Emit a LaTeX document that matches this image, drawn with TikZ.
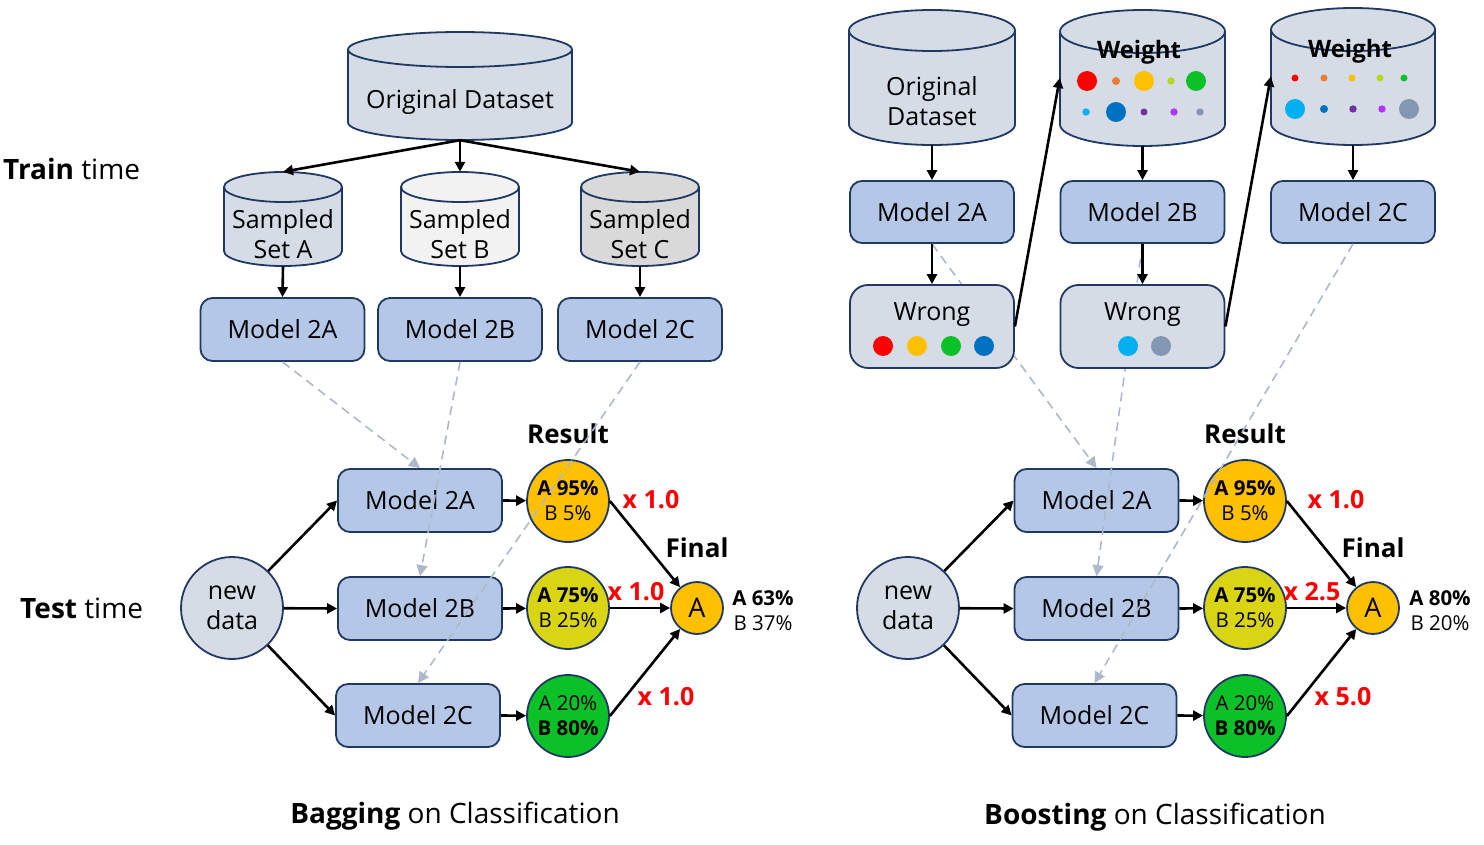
\documentclass[tikz,border=0pt]{standalone}
\usepackage{fontspec}
\setmainfont{Open Sans}
\usetikzlibrary{arrows.meta}

\definecolor{navy}{RGB}{31,56,100}
\definecolor{modelblue}{RGB}{180,199,231}
\definecolor{paleblue}{RGB}{214,220,229}
\definecolor{palewhite}{RGB}{242,242,242}
\definecolor{palegray}{RGB}{217,217,217}
\definecolor{hintgray}{RGB}{173,185,202}
\definecolor{gold}{RGB}{255,192,0}
\definecolor{olive}{RGB}{217,212,20}
\definecolor{leaf}{RGB}{12,192,40}
\definecolor{dotorange}{RGB}{237,125,49}
\definecolor{dotlime}{RGB}{183,215,30}
\definecolor{dotblue}{RGB}{0,112,192}
\definecolor{dotsky}{RGB}{0,176,240}
\definecolor{dotpurple}{RGB}{112,48,160}
\definecolor{dotviolet}{RGB}{176,54,244}
\definecolor{dotgray}{RGB}{132,151,176}

\tikzset{
  txt/.style={font=\fontsize{25}{30}\selectfont, align=center, inner sep=0pt},
  big/.style={font=\fontsize{28}{32}\selectfont, inner sep=0pt},
  head/.style={font=\bfseries\fontsize{26}{30}\selectfont, inner sep=0pt},
  small/.style={font=\fontsize{20.5}{25}\selectfont, align=center, inner sep=0pt},
  weight/.style={font=\bfseries\fontsize{25}{28}\selectfont, text=red, inner sep=0pt},
  store/.style={draw=navy, fill=paleblue, line width=1.8pt},
  model/.style={draw=navy, fill=modelblue, rounded corners=12pt, line width=1.8pt,
    minimum width=164pt, minimum height=63pt, font=\fontsize{25}{30}\selectfont},
  wrong/.style={draw=navy, fill=paleblue, rounded corners=18pt, line width=1.8pt,
    minimum width=164pt, minimum height=83pt},
  data/.style={circle, draw=navy, fill=paleblue, line width=1.8pt, minimum size=102pt,
    align=center, inner sep=0pt, font=\fontsize{25}{30}\selectfont},
  result/.style={circle, draw=navy, line width=1.8pt, minimum size=82pt, inner sep=0pt,
    align=center, font=\fontsize{20.5}{25}\selectfont},
  final/.style={circle, draw=navy, fill=gold, line width=1.8pt, minimum size=52pt,
    inner sep=0pt, font=\fontsize{27}{30}\selectfont},
  arr/.style={-{Triangle[length=10pt,width=10pt]}, line width=2.6pt},
  hint/.style={-{Triangle[length=11pt,width=11pt]}, draw=hintgray, line width=1.6pt,
    dash pattern=on 9pt off 6pt},
}

% data store: options, name, x, y, width, height, ellipse radius
\newcommand\dbase[7]{%
  \node [minimum width=#5pt, minimum height=#6pt, inner sep=0pt] (#2) at (#3,#4) {};
  \filldraw [store, #1] ({#3-#5/2},{#4-#6/2+#7}) -- ({#3-#5/2},{#4+#6/2-#7})
    arc [start angle=180, end angle=360, x radius=#5/2*1pt, y radius=#7*1pt]
    -- ({#3+#5/2},{#4-#6/2+#7})
    arc [start angle=0, end angle=180, x radius=#5/2*1pt, y radius=#7*1pt] -- cycle;
  \draw [store, fill=none] ({#3-#5/2},{#4-#6/2+#7})
    arc [start angle=180, end angle=360, x radius=#5/2*1pt, y radius=#7*1pt];
}

\begin{document}
\begin{tikzpicture}[x=1pt,y=-1pt]
\useasboundingbox (0,0) rectangle (1484,845);

% bagging, train time
\node [big, anchor=west] (train) at (3,169) {\textbf{Train} time};
\dbase{}{od}{460}{86}{224}{108}{17.5}
\node [txt] (odt) at (460,102) {Original Dataset};

\dbase{}{sa}{283}{219}{118}{94}{15}
\dbase{fill=palewhite}{sb}{460}{219}{118}{94}{15}
\dbase{fill=palegray}{sc}{640}{219}{118}{94}{15}
\node [txt] (sat) at (283,234) {Sampled\\Set A};
\node [txt] (sbt) at (460,234) {Sampled\\Set B};
\node [txt] (sct) at (640,234) {Sampled\\Set C};

\node [model] (ma) at (282.5,329.5) {Model 2A};
\node [model] (mb) at (460,329.5) {Model 2B};
\node [model] (mc) at (640,329.5) {Model 2C};

\foreach \s in {sa,sb,sc}
  \draw [arr] (od.south) -- (\s.north);
\draw [arr] (sa.south) -- (ma.north);
\draw [arr] (sb.south) -- (mb.north);
\draw [arr] (sc.south) -- (mc.north);

% bagging, test time
\node [big, anchor=west] (test) at (20,608) {\textbf{Test} time};
\node [data] (nd) at (232,608) {new\\data};
\node [model] (ta) at (420,500.5) {Model 2A};
\node [model] (tb) at (420,608.5) {Model 2B};
\node [model] (tc) at (418,715.5) {Model 2C};

\node [result, fill=gold] (ra) at (568,501) {\textbf{A 95\%}\\B 5\%};
\node [result, fill=olive] (rb) at (568,608) {\textbf{A 75\%}\\B 25\%};
\node [result, fill=leaf] (rc) at (568,716) {A 20\%\\\textbf{B 80\%}};
\node [final] (fin) at (697,608) {A};

\node [head] (res) at (568,434) {Result};
\node [head] (fint) at (697,548) {Final};
\node [weight] (wa) at (651,500) {x 1.0};
\node [weight] (wb) at (636,592) {x 1.0};
\node [weight] (wc) at (666,697) {x 1.0};
\node [small] (vote) at (763,611) {\textbf{A 63\%}\\B 37\%};

\draw [arr] (nd) -- (ta.west);
\draw [arr] (nd) -- (tb.west);
\draw [arr] (nd) -- (tc.west);
\draw [arr] (ta.east) -- (ra);
\draw [arr] (tb.east) -- (rb);
\draw [arr] (tc.east) -- (rc);
\draw [arr] (ra.east) -- (fin);
\draw [arr] (rb.east) -- (fin);
\draw [arr] (rc.east) -- (fin);

\draw [hint] (ma.south) -- (ta.north);
\draw [hint] (mb.south) -- (tb.north);
\draw [hint] (mc.south) -- (tc.north);

\node [big] (cap) at (455,816) {\textbf{Bagging} on Classification};

% boosting, train time
\dbase{}{od'}{932}{77.5}{166}{135}{20.5}
\node [txt] (odt') at (932,101) {Original\\Dataset};
\dbase{}{wt}{1142.5}{78}{165}{136}{21.5}
\dbase{}{wt'}{1353}{76.5}{164}{137}{21.5}
\node [txt, font=\bfseries\fontsize{24}{30}\selectfont] (wtt) at (1139,52) {Weight};
\node [txt, font=\bfseries\fontsize{24}{30}\selectfont] (wtt') at (1350,51) {Weight};

% weight dots
\foreach \x/\y/\r/\c in {1087/81/10/red, 1116/81/4/dotorange, 1144/81/10/gold,
    1171/81/3.7/dotlime, 1196/81/10/leaf, 1086/112/3.7/dotsky, 1116/112/10/dotblue,
    1144/112/3.5/dotpurple, 1174/112/3.7/dotviolet, 1200/112/3.7/dotgray}
  \fill [\c] (\x,\y) circle [radius=\r pt];
\foreach \x/\y/\r/\c in {1295/78/3.5/red, 1324/78/3.5/dotorange, 1352/78/3.5/gold,
    1380/78/3.5/dotlime, 1404/78/3.5/leaf, 1295/109/10/dotsky, 1324/109/4/dotblue,
    1353/109/3.7/dotpurple, 1382/109/3.7/dotviolet, 1409/109/10/dotgray}
  \fill [\c] (\x,\y) circle [radius=\r pt];

\node [model, minimum height=62pt] (ma') at (932,212) {Model 2A};
\node [model, minimum height=62pt] (mb') at (1142.5,212) {Model 2B};
\node [model, minimum height=62pt] (mc') at (1353,212) {Model 2C};

\draw [arr] (od'.south) -- (ma'.north);
\draw [arr] (wt.south) -- (mb'.north);
\draw [arr] (wt'.south) -- (mc'.north);

% boosting, test time
\node [data] (nd') at (908,608) {new\\data};
\node [model] (ta') at (1096.5,500.5) {Model 2A};
\node [model] (tb') at (1096.5,608.5) {Model 2B};
\node [model] (tc') at (1094.5,715.5) {Model 2C};

\node [result, fill=gold] (ra') at (1245,501) {\textbf{A 95\%}\\B 5\%};
\node [result, fill=olive] (rb') at (1245,608) {\textbf{A 75\%}\\B 25\%};
\node [result, fill=leaf] (rc') at (1245,716) {A 20\%\\\textbf{B 80\%}};
\node [final] (fin') at (1373,608) {A};

\node [head] (res') at (1245,434) {Result};
\node [head] (fint') at (1373,548) {Final};
\node [weight] (wa') at (1336,500) {x 1.0};
\node [weight] (wb') at (1312,592) {x 2.5};
\node [weight] (wc') at (1343,697) {x 5.0};
\node [small] (vote') at (1440,611) {\textbf{A 80\%}\\B 20\%};

\draw [arr] (nd') -- (ta'.west);
\draw [arr] (nd') -- (tb'.west);
\draw [arr] (nd') -- (tc'.west);
\draw [arr] (ta'.east) -- (ra');
\draw [arr] (tb'.east) -- (rb');
\draw [arr] (tc'.east) -- (rc');
\draw [arr] (ra'.east) -- (fin');
\draw [arr] (rb'.east) -- (fin');
\draw [arr] (rc'.east) -- (fin');

\draw [hint] (ma'.south) -- (ta'.north);
\draw [hint] (mb'.south) -- (tb'.north);
\draw [hint] (mc'.south) -- (tc'.north);

% wrong answers, drawn over the hints
\node [wrong] (wr) at (932,326.5) {};
\node [wrong] (wr') at (1142.5,326.5) {};
\node [txt] (wrt) at (932,315) {Wrong};
\node [txt] (wrt') at (1142.5,315) {Wrong};
\foreach \x/\c in {883/red, 917/gold, 951/leaf, 984/dotblue, 1128/dotsky, 1161/dotgray}
  \fill [\c] (\x,346) circle [radius=10pt];

\draw [arr] (ma'.south) -- (wr.north);
\draw [arr] (mb'.south) -- (wr'.north);
\draw [arr] (wr.east) -- (wt.west);
\draw [arr] (wr'.east) -- (wt'.west);

\node [big] (cap') at (1155,817) {\textbf{Boosting} on Classification};
\end{tikzpicture}
\end{document}
